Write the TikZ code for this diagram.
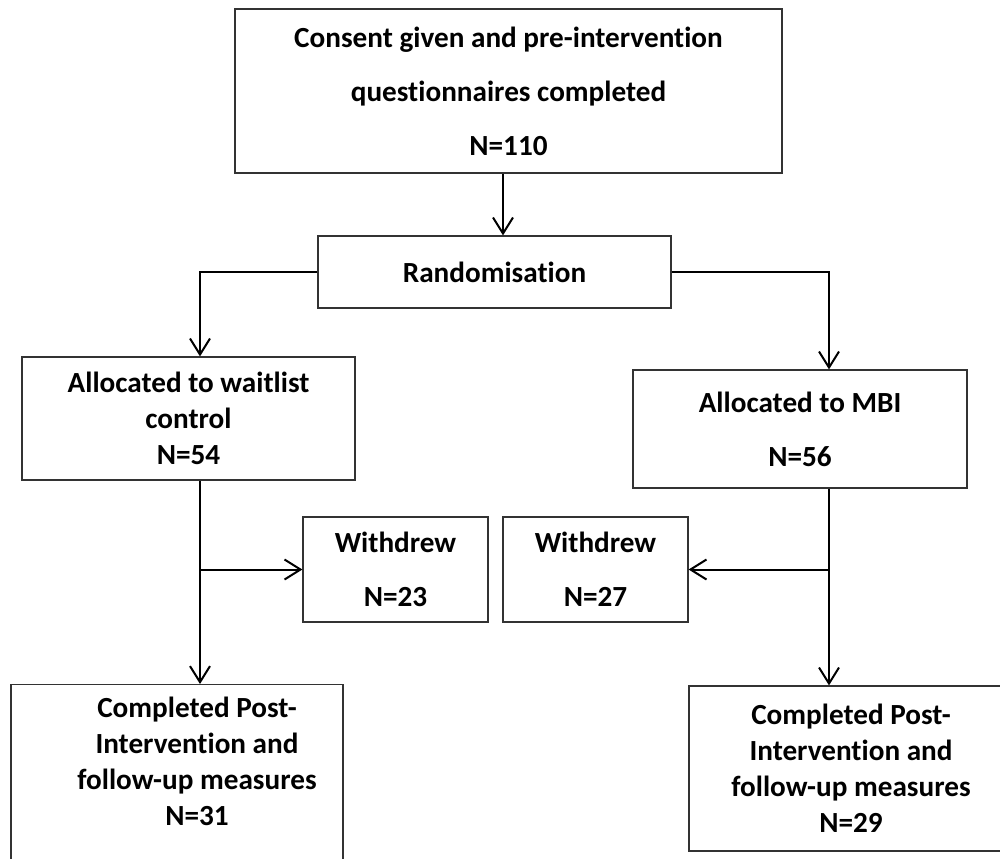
\documentclass[tikz,border=0pt]{standalone}
\usepackage{fontspec}
\setmainfont{Carlito}[Ligatures={NoCommon}]
\usetikzlibrary{arrows.meta}
\begin{document}
\begin{tikzpicture}[x=0.5pt,y=-0.5pt,
  box/.style={draw=black!80, line width=0.6pt, align=center, inner sep=0pt},
  loose/.style={font=\fontsize{14.6}{27}\selectfont\bfseries},
  tight/.style={font=\fontsize{14.6}{18}\selectfont\bfseries},
  arr/.style={line width=1pt, -{Straight Barb[length=8pt,width=10pt,line width=1pt]}}]
\useasboundingbox (0,0) rectangle (1000,858);

\node[box, loose, minimum width=273.5pt, minimum height=82pt] (consent) at (508.5,91)
  {Consent given and pre-intervention\\questionnaires completed\\N=110};
\node[box, loose, minimum width=176.5pt, minimum height=36pt] (random) at (494.5,272) {Randomisation};

\node[box, tight, minimum width=166.5pt, minimum height=61.5pt] (waitlist) at (188.5,418.5)
  {Allocated to waitlist\\control\\N=54};
\node[box, loose, minimum width=167pt, minimum height=59pt] (mbi) at (800,429) {Allocated to MBI\\N=56};

\node[box, loose, minimum width=92.5pt, minimum height=52.5pt] (wdW) at (395.5,569.5) {Withdrew\\N=23};
\node[box, loose, minimum width=92.5pt, minimum height=52.5pt] (wdM) at (595.5,569.5) {Withdrew\\N=27};

\node[box, anchor=north, minimum width=166pt, minimum height=98pt] (doneW) at (177,684) {};
\node[tight, align=center] (doneWtext) at (197,761)
  {Completed Post-\\Intervention and\\follow-up measures\\N=31};
\node[box, tight, minimum width=162pt, minimum height=82.5pt] (doneM) at (851,768.5)
  {Completed Post-\\Intervention and\\follow-up measures\\N=29};

\coordinate (mx) at (503,0);
\coordinate (lx) at (200,0);
\coordinate (rx) at (829,0);

\draw[arr] (consent.south -| mx) -- (random.north -| mx);
\draw[arr] (random.west) -| (waitlist.north -| lx);
\draw[arr] (random.east) -| (mbi.north -| rx);
\draw[arr] (waitlist.south -| lx) -- (doneW.north -| lx);
\draw[arr] (wdW.west -| lx) -- (wdW.west);
\draw[arr] (mbi.south -| rx) -- (doneM.north -| rx);
\draw[arr] (wdM.east -| rx) -- (wdM.east);
\end{tikzpicture}
\end{document}
